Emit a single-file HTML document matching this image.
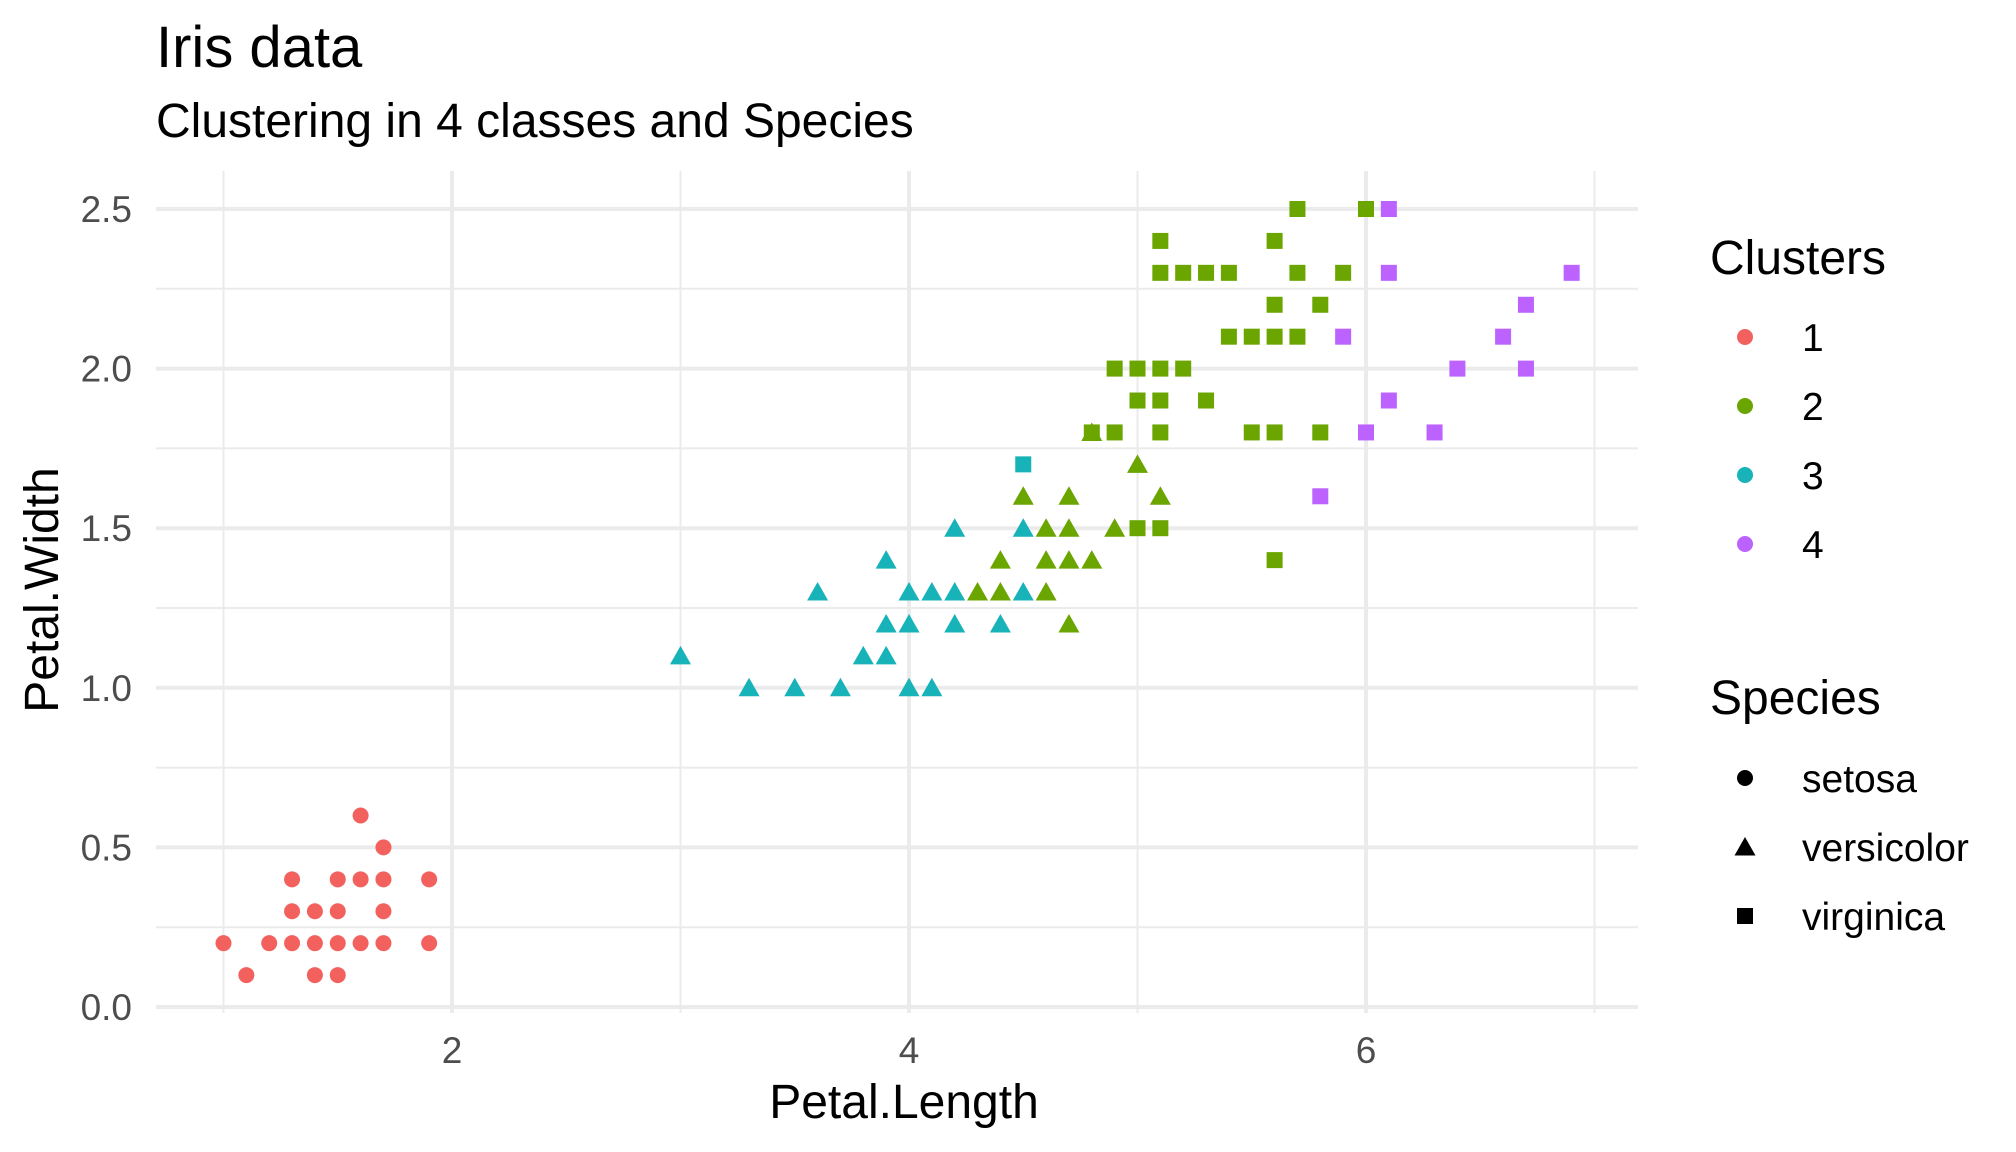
<!DOCTYPE html>
<html><head><meta charset="utf-8"><style>
html,body{margin:0;padding:0;background:#fff;}
svg{display:block;font-family:"Liberation Sans",sans-serif;}
</style></head><body>
<svg id="chart" width="2016" height="1152" viewBox="0 0 2016 1152" xmlns="http://www.w3.org/2000/svg">
<text x="156" y="67" font-size="58" fill="#000">Iris data</text>
<text x="156" y="137" font-size="48" fill="#000">Clustering in 4 classes and Species</text>
<g id="grid"></g>
<g id="ticks"></g>
<g id="points"></g>
<text x="904" y="1118" font-size="48" text-anchor="middle" fill="#000">Petal.Length</text>
<text transform="translate(58,590) rotate(-90)" font-size="48" text-anchor="middle" fill="#000">Petal.Width</text>
<g id="legend"></g>
</svg>
<script>
const clusterColors = ["#F3615E","#6AA500","#17B3B9","#BB62FF"];
const clusterLabels = ["1","2","3","4"];
const speciesLabels = ["setosa","versicolor","virginica"];
const xTicks = [2,4,6];
const xMinor = [1,3,5,7];
const yTicks = [0,0.5,1,1.5,2,2.5];
const yTickLabels = ["0.0","0.5","1.0","1.5","2.0","2.5"];
const yMinor = [0.25,0.75,1.25,1.75,2.25];
const setosaC1 = [[1.0,0.2],[1.1,0.1],[1.2,0.2],[1.3,0.2],[1.3,0.3],[1.3,0.4],[1.4,0.1],[1.4,0.2],[1.4,0.3],[1.5,0.1],[1.5,0.2],[1.5,0.3],[1.5,0.4],[1.6,0.2],[1.6,0.4],[1.6,0.6],[1.7,0.2],[1.7,0.3],[1.7,0.4],[1.7,0.5],[1.9,0.2],[1.9,0.4]];
const versicolorC3 = [[3.0,1.1],[3.3,1.0],[3.5,1.0],[3.6,1.3],[3.7,1.0],[3.8,1.1],[3.9,1.1],[3.9,1.2],[3.9,1.4],[4.0,1.0],[4.0,1.2],[4.0,1.3],[4.1,1.0],[4.1,1.3],[4.2,1.2],[4.2,1.3],[4.2,1.5],[4.4,1.2],[4.5,1.3],[4.5,1.5]];
const virginicaC3 = [[4.5,1.7]];
const versicolorC2 = [[4.3,1.3],[4.4,1.3],[4.4,1.4],[4.5,1.6],[4.6,1.3],[4.6,1.4],[4.6,1.5],[4.7,1.2],[4.7,1.4],[4.7,1.5],[4.7,1.6],[4.8,1.4],[4.8,1.8],[4.9,1.5],[5.0,1.7],[5.1,1.6]];
const virginicaC2 = [[4.8,1.8],[4.9,1.8],[4.9,2.0],[5.0,1.5],[5.0,1.9],[5.0,2.0],[5.1,1.5],[5.1,1.8],[5.1,1.9],[5.1,2.0],[5.1,2.3],[5.1,2.4],[5.2,2.0],[5.2,2.3],[5.3,1.9],[5.3,2.3],[5.4,2.1],[5.4,2.3],[5.5,1.8],[5.5,2.1],[5.6,1.4],[5.6,1.8],[5.6,2.1],[5.6,2.2],[5.6,2.4],[5.7,2.1],[5.7,2.3],[5.7,2.5],[5.8,1.8],[5.8,2.2],[5.9,2.3],[6.0,2.5]];
const virginicaC4 = [[5.8,1.6],[5.9,2.1],[6.0,1.8],[6.1,1.9],[6.1,2.3],[6.1,2.5],[6.3,1.8],[6.4,2.0],[6.6,2.1],[6.7,2.0],[6.7,2.2],[6.9,2.3]];

const NS="http://www.w3.org/2000/svg";
const PL=156,PR=1638,PT=171,PB=1013;
function xs(v){return 452+(v-2)*228.5;}
function ys(v){return 1007-v*319.2;}
function mk(tag,attrs,parent){const e=document.createElementNS(NS,tag);for(const k in attrs)e.setAttribute(k,attrs[k]);parent.appendChild(e);return e;}
const grid=document.getElementById('grid');
yMinor.forEach(v=>{const l=mk('line',{x1:PL,x2:PR,y1:ys(v),y2:ys(v),stroke:'#ebebeb','stroke-width':2},grid);

});
xMinor.forEach(v=>{const l=mk('line',{x1:xs(v),x2:xs(v),y1:PT,y2:PB,stroke:'#ebebeb','stroke-width':2},grid);

});
yTicks.forEach(v=>{const l=mk('line',{x1:PL,x2:PR,y1:ys(v),y2:ys(v),stroke:'#ebebeb','stroke-width':4},grid);

});
xTicks.forEach(v=>{const l=mk('line',{x1:xs(v),x2:xs(v),y1:PT,y2:PB,stroke:'#ebebeb','stroke-width':4},grid);

});
const ticks=document.getElementById('ticks');
yTicks.forEach((v,i)=>{const t=mk('text',{x:132,y:ys(v)+13,'font-size':37,'text-anchor':'end',fill:'#4d4d4d'},ticks);t.textContent=yTickLabels[i];

});
xTicks.forEach(v=>{const t=mk('text',{x:xs(v),y:1063,'font-size':37,'text-anchor':'middle',fill:'#4d4d4d'},ticks);t.textContent=String(v);

});
function shape(sp,cx,cy,color,parent){
  if(sp===0) return mk('circle',{cx:cx,cy:cy,r:8,fill:color},parent);
  if(sp===1) return mk('polygon',{points:`${cx-10.5},${cy+8.5} ${cx+10.5},${cy+8.5} ${cx},${cy-10}`,fill:color},parent);
  return mk('rect',{x:cx-8,y:cy-8,width:16,height:16,fill:color},parent);
}
const pts=document.getElementById('points');
const groups=[[setosaC1,1,0],[versicolorC3,3,1],[virginicaC3,3,2],[versicolorC2,2,1],[virginicaC2,2,2],[virginicaC4,4,2]];
groups.forEach(g=>{g[0].forEach(p=>{const e=shape(g[2],xs(p[0]),ys(p[1]),clusterColors[g[1]-1],pts);

});});
const lg=document.getElementById('legend');
let t=mk('text',{x:1710,y:274,'font-size':48,fill:'#000'},lg);t.textContent='Clusters';


const cy=[337,406,475,544];
clusterLabels.forEach((c,i)=>{const d=shape(0,1745,cy[i],clusterColors[i],lg);


const tx=mk('text',{x:1802,y:cy[i]+14,'font-size':39,fill:'#000'},lg);tx.textContent=c;

});
t=mk('text',{x:1710,y:714,'font-size':48,fill:'#000'},lg);t.textContent='Species';


const sy=[778,847,916];
speciesLabels.forEach((s,i)=>{const d=shape(i,1745,sy[i],'#000',lg);


const tx=mk('text',{x:1802,y:sy[i]+14,'font-size':39,fill:'#000'},lg);tx.textContent=s;

});
</script>
</body></html>
